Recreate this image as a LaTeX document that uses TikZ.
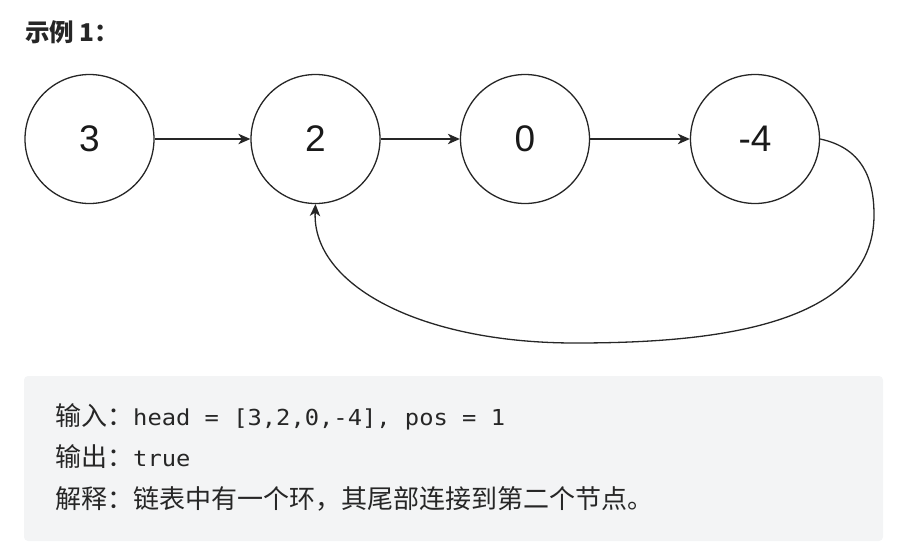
\documentclass[tikz,border=0pt]{standalone}
\usepackage{fontspec}
\setmainfont{Liberation Sans}
\newfontfamily\cjk{Noto Sans CJK SC}
\newfontfamily\monof[FakeStretch=1.08]{DejaVu Sans Mono}
\usetikzlibrary{arrows.meta}
\definecolor{boxgray}{HTML}{F3F4F5}
\definecolor{ink}{HTML}{262626}
\begin{document}
\begin{tikzpicture}[x=1pt,y=-1pt,
  nodecirc/.style={circle,draw=black!85,line width=1.3pt,minimum size=129pt,inner sep=0pt,
    font=\fontsize{37}{40}\selectfont,text=black!90},
  link/.style={line width=1.3pt,draw=black!85,-{Stealth[length=12pt,width=10.5pt,inset=3.5pt]}},
  txt/.style={anchor=base west,inner sep=0pt,text=ink,font=\fontsize{26}{30}\selectfont}
]
\useasboundingbox (0,0) rectangle (904,554);
\node[anchor=west,inner sep=0pt,font=\cjk\bfseries\fontsize{24.5}{27}\selectfont,text=ink] (title) at (25,32) {示例 1：};

\node[nodecirc] (n1) at (89.5,139) {3};
\node[nodecirc] (n2) at (315.5,139) {2};
\node[nodecirc] (n3) at (525,139) {0};
\node[nodecirc] (n4) at (755,139) {-4};

\draw[link] (n1) -- (n2);
\draw[link] (n2) -- (n3);
\draw[link] (n3) -- (n4);
\draw[link] (n4.east) .. controls (862,148) and (874,178) .. (874,215)
  .. controls (874,330) and (700,343) .. (575,343)
  .. controls (420,343) and (312,285) .. (n2.south);

\fill[boxgray, rounded corners=4pt] (24,376) rectangle (883,541);
\node[txt] (l1) at (55,425) {{\cjk 输入：}{\monof\fontsize{22}{26}\selectfont head = [3,2,0,-4], pos = 1}};
\node[txt] (l2) at (55,466.5) {{\cjk 输出：}{\monof\fontsize{22}{26}\selectfont true}};
\node[txt] (l3) at (55,508) {{\cjk 解释：链表中有一个环，其尾部连接到第二个节点。}};
\end{tikzpicture}
\end{document}
